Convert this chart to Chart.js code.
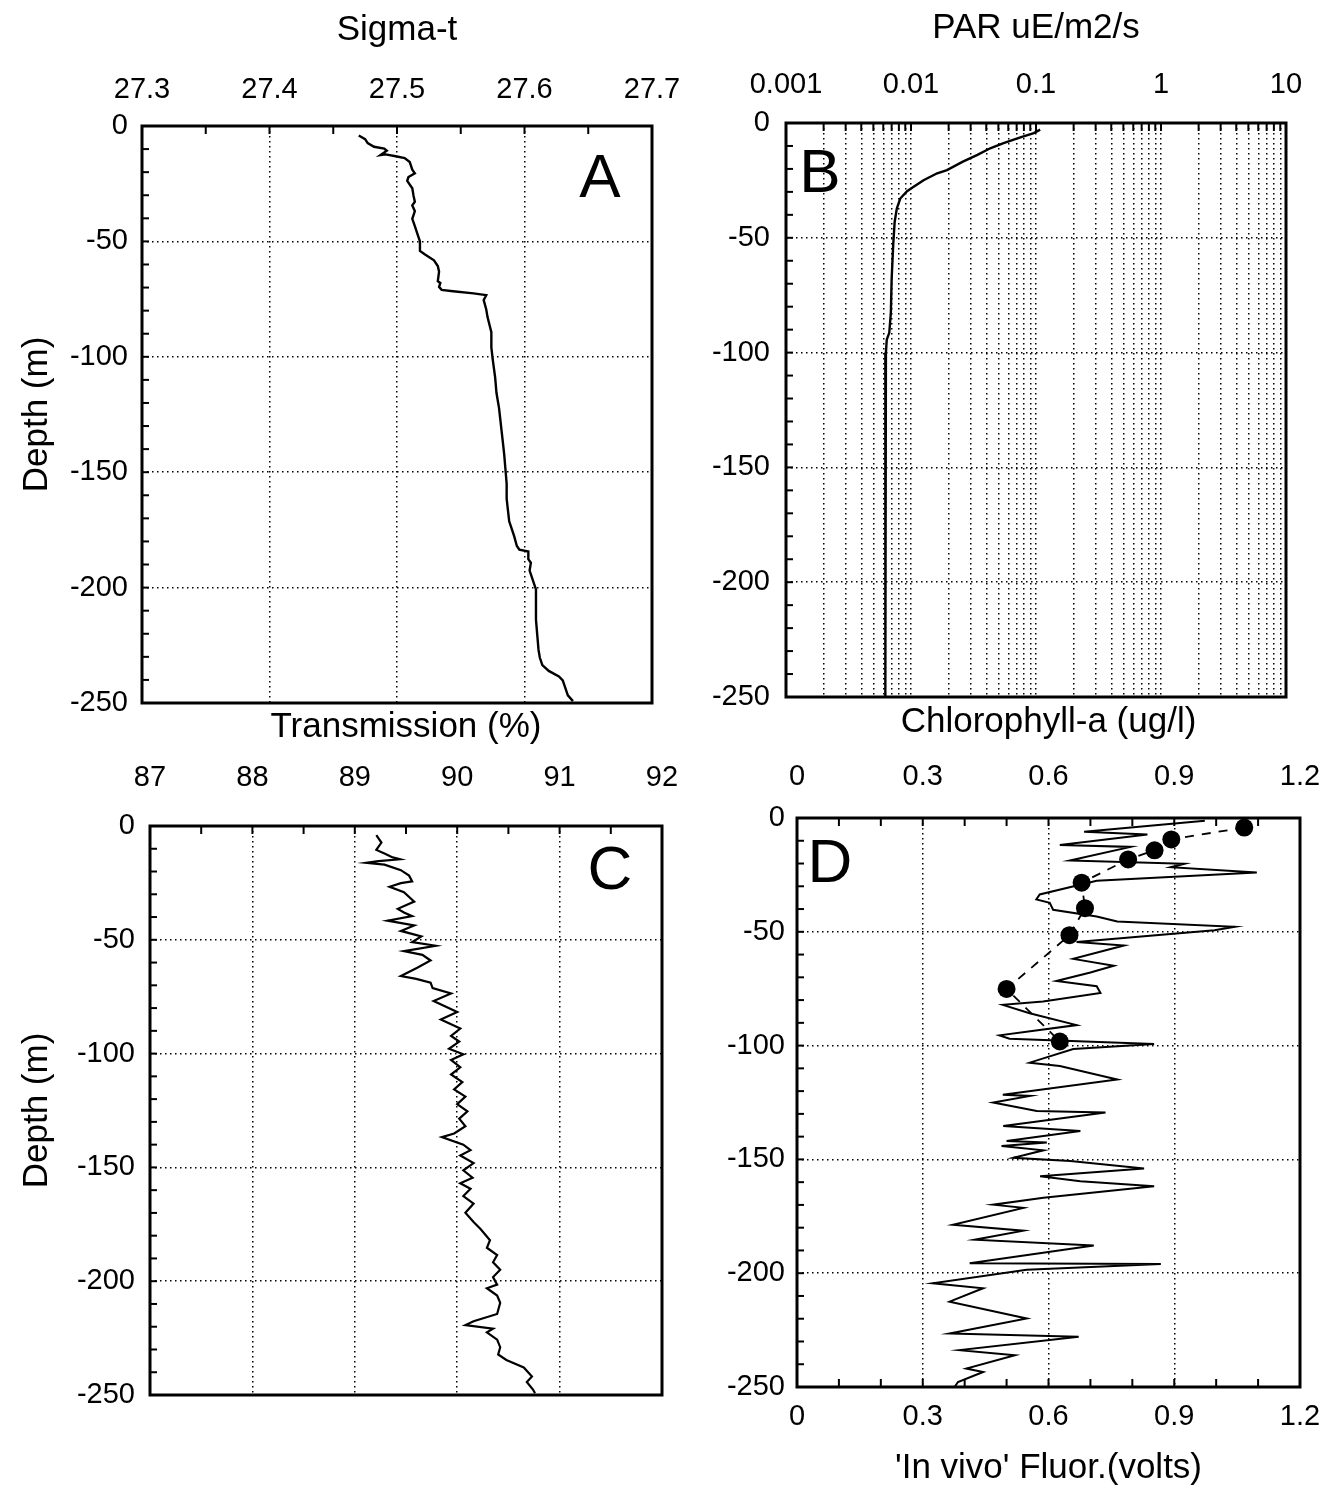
<!DOCTYPE html>
<html>
<head>
<meta charset="utf-8">
<script src="https://cdn.jsdelivr.net/npm/chart.js@4.4.1/dist/chart.umd.min.js"></script>
<style>
html, body { margin: 0; padding: 0; background: #fff; overflow: hidden; }
#page { position: relative; width: 1325px; height: 1489px; background: #fff; }
canvas { position: absolute; }
</style>
</head>
<body>
<div id="page">
  <canvas id="cA" width="700" height="725" style="left:0;top:0"></canvas>
  <canvas id="cB" width="665" height="720" style="left:660px;top:0"></canvas>
  <canvas id="cC" width="700" height="720" style="left:0;top:700px"></canvas>
  <canvas id="cD" width="665" height="789" style="left:660px;top:700px"></canvas>
</div>
<script>
// ---- A: sigma-t profile
var sigmaDepth = [-4.1, -5.7, -7.4, -9.0, -9.8, -10.7, -12.6, -12.3, -13.1, -13.9, -15.6, -18.9, -20.5, -22.1, -23.8,
  -27.0, -30.3, -32.8, -34.4, -36.9, -40.2, -43.4, -46.7, -50.0, -54.1, -55.7, -58.2, -60.7, -63.1, -67.2, -68.0,
  -69.7, -71.0, -71.6, -72.5, -73.3, -75.4, -79.5, -82.8, -89.3, -95.9, -100.8, -109.0, -115.6, -122.1, -127.0,
  -132.0, -136.9, -141.8, -148.4, -154.9, -161.5, -166.4, -171.3, -174.6, -177.9, -182.0, -183.6, -184.4, -187.7,
  -189.3, -192.6, -195.9, -200.8, -207.4, -213.9, -220.5, -227.0, -230.3, -233.6, -236.1, -238.5, -240.2, -243.4,
  -246.7, -249.2];
var sigmaValues = [27.470, 27.475, 27.477, 27.482, 27.490, 27.492, 27.487, 27.491, 27.499, 27.506, 27.510, 27.512,
  27.514, 27.509, 27.508, 27.512, 27.513, 27.514, 27.512, 27.514, 27.512, 27.514, 27.516, 27.518, 27.518, 27.522,
  27.529, 27.532, 27.533, 27.532, 27.534, 27.533, 27.535, 27.544, 27.560, 27.570, 27.568, 27.570, 27.571, 27.574,
  27.574, 27.575, 27.577, 27.578, 27.580, 27.581, 27.582, 27.583, 27.584, 27.585, 27.586, 27.586, 27.587, 27.588,
  27.590, 27.592, 27.594, 27.596, 27.603, 27.603, 27.605, 27.604, 27.606, 27.609, 27.609, 27.609, 27.610, 27.611,
  27.612, 27.614, 27.619, 27.627, 27.630, 27.632, 27.634, 27.638];

// ---- B: PAR profile
var parDepth = [-2.9, -4.4, -6.3, -8.8, -11.0, -13.9, -16.8, -20.5, -21.9, -24.9, -27.8, -29.7, -32.9, -37.3, -43.1,
  -53.4, -68.0, -82.6, -91.4, -94.3, -100, -150, -200, -250];
var parValues = [0.108, 0.096, 0.075, 0.055, 0.043, 0.034, 0.026, 0.0194, 0.0162, 0.0126, 0.0105, 0.0093, 0.0082,
  0.0077, 0.0074, 0.0072, 0.0070, 0.0069, 0.0067, 0.0064, 0.0063, 0.0062, 0.0062, 0.0063];

// ---- C: transmission profile
var transDepth = [-4.0, -7.3, -10.5, -12.1, -13.8, -14.6, -15.4, -16.2, -17.0, -19.4, -21.8, -24.3, -25.1, -26.7,
  -29.1, -33.2, -36.4, -38.0, -39.6, -41.6, -43.7, -46.1, -48.5, -51.0, -52.6, -55.0, -56.6, -59.1, -62.3, -65.9,
  -67.2, -68.8, -71.2, -73.6, -76.9, -81.7, -85.0, -89.0, -92.2, -94.7, -97.9, -100.3, -102.8, -106.0, -109.2,
  -112.5, -115.7, -118.9, -122.2, -125.4, -128.6, -131.9, -135.1, -136.7, -140.0, -142.4, -144.8, -148.1, -151.3,
  -154.5, -157.0, -159.4, -162.6, -165.9, -169.9, -174.0, -177.2, -182.0, -185.3, -188.5, -191.7, -195.0, -198.2,
  -201.5, -203.1, -206.3, -209.5, -214.4, -217.6, -219.3, -220.9, -222.5, -225.7, -229.0, -232.2, -234.6, -237.9,
  -241.9, -244.3, -247.6, -249.2];
var transValues = [89.21, 89.26, 89.21, 89.29, 89.37, 89.44, 89.23, 89.11, 89.29, 89.45, 89.53, 89.56, 89.45, 89.34,
  89.48, 89.58, 89.42, 89.48, 89.56, 89.32, 89.58, 89.45, 89.65, 89.56, 89.79, 89.48, 89.66, 89.74, 89.61, 89.45,
  89.60, 89.74, 89.76, 89.94, 89.77, 90.00, 89.84, 90.03, 89.94, 90.02, 89.92, 90.06, 89.94, 90.03, 89.94, 90.05,
  89.97, 90.08, 90.00, 90.10, 90.02, 90.08, 89.97, 89.85, 90.06, 90.13, 90.03, 90.16, 90.06, 90.15, 90.03, 90.13,
  90.06, 90.16, 90.08, 90.16, 90.23, 90.32, 90.29, 90.39, 90.35, 90.42, 90.35, 90.39, 90.29, 90.39, 90.42, 90.39,
  90.16, 90.08, 90.35, 90.29, 90.39, 90.42, 90.40, 90.48, 90.65, 90.73, 90.68, 90.74, 90.76];

// ---- D: in vivo fluorescence (line) and chlorophyll-a samples (dots)
var fluorDepth = [-1.2, -6.0, -7.2, -11.9, -12.7, -18.7, -20.1, -21.6, -23.9, -27.6, -33.6, -35.8, -37.3, -40.3,
  -43.3, -45.5, -47.8, -49.3, -54.5, -56.0, -61.9, -64.9, -67.9, -71.6, -73.9, -76.9, -80.6, -82.1, -85.8, -91.0,
  -95.5, -97.0, -99.3, -101.5, -107.5, -109.0, -114.9, -121.6, -122.1, -125.0, -128.7, -129.4, -135.3, -137.5,
  -141.9, -142.6, -144.1, -146.0, -149.3, -150.7, -154.0, -157.4, -159.6, -161.8, -166.9, -169.9, -171.3, -178.7,
  -181.3, -185.3, -187.8, -195.6, -196.0, -198.5, -204.4, -206.6, -212.5, -219.9, -226.5, -227.9, -233.8, -236.0,
  -241.9, -243.4, -247.8, -250.0];
var fluorValues = [0.973, 0.685, 0.836, 0.627, 0.796, 0.651, 0.924, 0.892, 1.097, 0.715, 0.579, 0.571, 0.603, 0.611,
  0.715, 0.764, 1.044, 0.996, 0.667, 0.780, 0.659, 0.756, 0.700, 0.619, 0.715, 0.724, 0.587, 0.491, 0.555, 0.667,
  0.483, 0.507, 0.852, 0.659, 0.555, 0.627, 0.764, 0.491, 0.556, 0.468, 0.572, 0.736, 0.492, 0.676, 0.500, 0.596,
  0.488, 0.588, 0.516, 0.652, 0.828, 0.580, 0.676, 0.852, 0.588, 0.468, 0.540, 0.372, 0.540, 0.424, 0.708, 0.412,
  0.868, 0.548, 0.324, 0.444, 0.364, 0.548, 0.364, 0.672, 0.388, 0.520, 0.404, 0.444, 0.384, 0.376];
var chlDepth = [-4.2, -9.4, -14.2, -18.2, -28.4, -39.6, -51.5, -75.1, -98.2];
var chlValues = [1.067, 0.893, 0.853, 0.790, 0.679, 0.687, 0.650, 0.500, 0.627];

// tick labels
var parTickValues = [0.001, 0.01, 0.1, 1, 10];
var parTickLabels = ['0.001', '0.01', '0.1', '1', '10'];

var FONT = '"Liberation Sans", Arial, Helvetica, sans-serif';
var tickFont = { family: FONT, size: 29 };
var titleFont = { family: FONT, size: 35 };

function pts(xs, ys) {
  return xs.map(function (x, i) { return { x: x, y: ys[i] }; });
}
function range(a, b, step) {
  var out = [];
  for (var v = a; v <= b + step / 1000; v += step) out.push(Math.round(v * 10000) / 10000);
  return out;
}

var parGrid = [];
parTickValues.forEach(function (d, k) {
  if (k === parTickValues.length - 1) { parGrid.push(d); return; }
  for (var m = 1; m <= 9; m++) parGrid.push(Math.round(m * d * 100000) / 100000);
});

function gridOpts(show) {
  return { display: show, color: '#000', lineWidth: 1.5, drawTicks: false };
}
var dotted = { display: false, dash: [1.5, 3.5] };

function depthAxis(width, withTitle, pad) {
  return {
    type: 'linear', position: 'left', min: -250, max: 0,
    ticks: { stepSize: 50, font: tickFont, color: '#000', padding: pad },
    grid: gridOpts(true), border: dotted,
    title: { display: withTitle, text: 'Depth (m)', font: titleFont, color: '#000', padding: { top: 16, bottom: 0 } },
    afterFit: function (s) { s.width = width; s.paddingTop = 0; s.paddingBottom = 0; }
  };
}
function topAxis(opts) {
  var a = {
    type: opts.type || 'linear', position: opts.position || 'top', min: opts.min, max: opts.max,
    ticks: { font: tickFont, color: '#000', padding: opts.pad, maxRotation: 0, autoSkip: false },
    grid: gridOpts(opts.grid !== false), border: dotted,
    title: { display: true, text: opts.title, font: titleFont, color: '#000', padding: opts.titlePad },
    afterFit: function (s) { s.height = opts.height; s.paddingLeft = 0; s.paddingRight = 0; }
  };
  if (opts.step) a.ticks.stepSize = opts.step;
  return a;
}

// frame, inward tick marks and panel letter
var framePlugin = {
  id: 'frame',
  afterDatasetsDraw: function (chart, args, o) {
    var ctx = chart.ctx, a = chart.chartArea;
    ctx.save();
    ctx.strokeStyle = '#000';
    ctx.lineWidth = 2;
    (o.marks || []).forEach(function (m) {
      var sc = chart.scales[m.scale];
      m.values.forEach(function (v) {
        var p = sc.getPixelForValue(v);
        var len = m.len;
        ctx.beginPath();
        if (m.edge === 'top') { ctx.moveTo(p, a.top); ctx.lineTo(p, a.top + len); }
        else if (m.edge === 'bottom') { ctx.moveTo(p, a.bottom); ctx.lineTo(p, a.bottom - len); }
        else { ctx.moveTo(a.left, p); ctx.lineTo(a.left + len, p); }
        ctx.stroke();
      });
    });
    ctx.lineWidth = 3;
    ctx.strokeRect(a.left, a.top, a.right - a.left, a.bottom - a.top);
    if (o.letter) {
      ctx.fillStyle = '#000';
      ctx.font = '62px ' + FONT;
      ctx.textAlign = 'center';
      ctx.textBaseline = 'middle';
      var lx = o.letter.from === 'right' ? a.right - o.letter.dx : a.left + o.letter.dx;
      ctx.fillText(o.letter.text, lx, a.top + o.letter.dy);
    }
    ctx.restore();
  }
};
Chart.register(framePlugin);

var depthMarks = { scale: 'y', values: range(-250, 0, 10), len: 7, edge: 'left' };

function lineSet(data, width) {
  return { data: data, showLine: true, borderColor: '#000', borderWidth: width, pointRadius: 0, fill: false, tension: 0 };
}
function baseOpts(padding) {
  return {
    responsive: false, animation: false, devicePixelRatio: 1,
    layout: { padding: padding },
    plugins: { legend: { display: false }, tooltip: { enabled: false } }
  };
}

// ---------- A
var optA = baseOpts({ left: 0, top: 0, right: 48, bottom: 22 });
optA.scales = {
  x: topAxis({ min: 27.3, max: 27.7, step: 0.1, pad: 19, height: 126, title: 'Sigma-t', titlePad: { top: 9, bottom: 0 } }),
  y: depthAxis(142, true, 14)
};
optA.plugins.frame = {
  marks: [depthMarks, { scale: 'x', values: range(27.3, 27.7, 0.05), len: 8, edge: 'top' }],
  letter: { text: 'A', from: 'right', dx: 52, dy: 54 }
};
new Chart(document.getElementById('cA'), {
  type: 'scatter',
  data: { datasets: [lineSet(pts(sigmaValues, sigmaDepth), 2.4)] },
  options: optA
});

// ---------- B
var optB = baseOpts({ left: 0, top: 0, right: 39, bottom: 23 });
var parAxis = topAxis({ type: 'logarithmic', min: 0.001, max: 10, pad: 21, height: 123, title: 'PAR uE/m2/s', titlePad: { top: 7, bottom: 0 } });
parAxis.afterBuildTicks = function (s) { s.ticks = parGrid.map(function (v) { return { value: v }; }); };
parAxis.ticks.callback = function (v) {
  var k = parTickValues.indexOf(v);
  return k >= 0 ? parTickLabels[k] : '';
};
optB.scales = { x: parAxis, y: depthAxis(126, false, 16) };
optB.plugins.frame = {
  marks: [depthMarks, { scale: 'x', values: parGrid, len: 8, edge: 'top' }],
  letter: { text: 'B', from: 'left', dx: 34, dy: 52 }
};
new Chart(document.getElementById('cB'), {
  type: 'scatter',
  data: { datasets: [lineSet(pts(parValues, parDepth), 2.4)] },
  options: optB
});

// ---------- C
var optC = baseOpts({ left: 0, top: 0, right: 38, bottom: 25 });
optC.scales = {
  x: topAxis({ min: 87, max: 92, step: 1, pad: 31, height: 126, title: 'Transmission (%)', titlePad: { top: 6, bottom: 0 } }),
  y: depthAxis(150, true, 15)
};
optC.plugins.frame = {
  marks: [depthMarks, { scale: 'x', values: range(87, 92, 0.5), len: 8, edge: 'top' }],
  letter: { text: 'C', from: 'right', dx: 52, dy: 46 }
};
new Chart(document.getElementById('cC'), {
  type: 'scatter',
  data: { datasets: [lineSet(pts(transValues, transDepth), 2.2)] },
  options: optC
});

// ---------- D
var optD = baseOpts({ left: 0, top: 0, right: 25, bottom: 0 });
optD.scales = {
  x2: topAxis({ min: 0, max: 1.2, step: 0.3, pad: 24, height: 118, title: 'Chlorophyll-a (ug/l)', titlePad: { top: 1, bottom: 0 }, grid: false }),
  x: topAxis({ position: 'bottom', min: 0, max: 1.2, step: 0.3, pad: 13, height: 102, title: '\'In vivo\' Fluor.(volts)', titlePad: { top: 0, bottom: 0 } }),
  y: depthAxis(137, false, 12)
};
optD.plugins.frame = {
  marks: [depthMarks,
    { scale: 'x2', values: range(0, 1.2, 0.1), len: 8, edge: 'top' },
    { scale: 'x', values: range(0, 1.2, 0.1), len: 8, edge: 'bottom' }],
  letter: { text: 'D', from: 'left', dx: 33, dy: 47 }
};
var chlSet = {
  data: pts(chlValues, chlDepth), xAxisID: 'x2', showLine: true,
  borderColor: '#000', borderWidth: 1.8, borderDash: [9, 8],
  pointRadius: 9, pointBackgroundColor: '#000', pointBorderWidth: 0
};
var fluorSet = lineSet(pts(fluorValues, fluorDepth), 2);
fluorSet.xAxisID = 'x';
new Chart(document.getElementById('cD'), {
  type: 'scatter',
  data: { datasets: [chlSet, fluorSet] },
  options: optD
});
</script>
</body>
</html>
